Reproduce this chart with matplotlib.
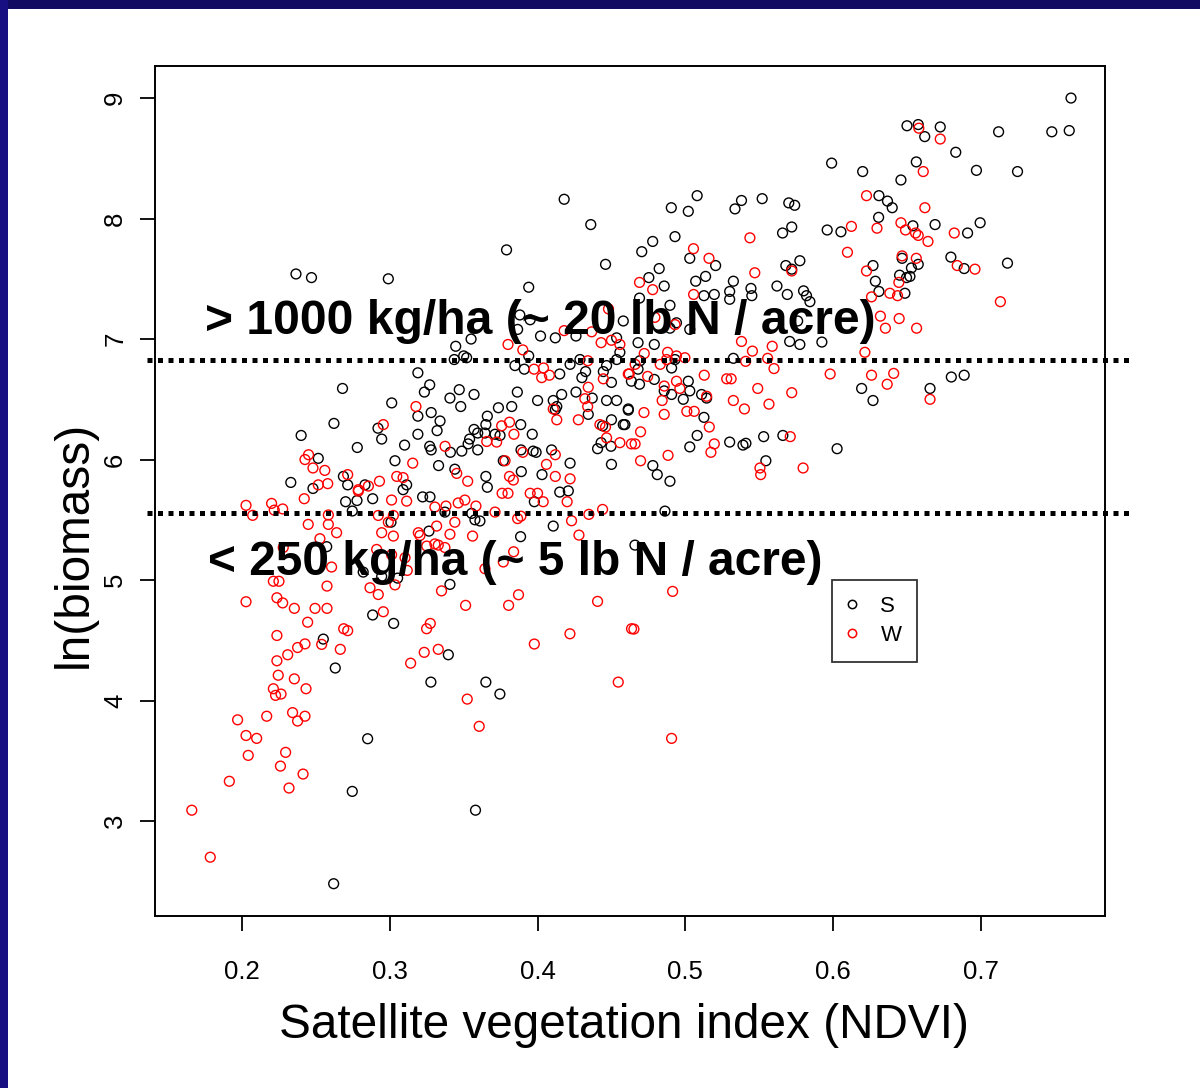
import matplotlib

matplotlib.use("Agg")
import matplotlib.pyplot as plt  # noqa: E402
from matplotlib.lines import Line2D  # noqa: E402
from matplotlib.patches import Rectangle  # noqa: E402

plt.rcParams["font.family"] = ["Liberation Sans", "DejaVu Sans"]

# group S (black circles): NDVI, ln(biomass)
s_ndvi = [
    0.418, 0.436, 0.379, 0.446, 0.394, 0.2365, 0.247, 0.299, 0.388, 0.395, 0.3865, 0.402, 0.412, 0.426, 0.458,
    0.3446, 0.355, 0.35, 0.3436, 0.352, 0.394, 0.3847, 0.391, 0.415, 0.422, 0.4287, 0.4325, 0.43, 0.4535, 0.4557,
    0.4535, 0.4467, 0.4445, 0.45, 0.426, 0.437, 0.4467, 0.4535, 0.4614, 0.4343, 0.444, 0.45, 0.458, 0.443, 0.4406,
    0.4497, 0.45, 0.4163, 0.4106, 0.413, 0.412, 0.40, 0.3863, 0.3825, 0.3735, 0.366, 0.365, 0.3886, 0.3746, 0.3712,
    0.3964, 0.357, 0.3595, 0.3644, 0.354, 0.353, 0.3888, 0.397, 0.399, 0.4095, 0.422, 0.3768, 0.389, 0.403, 0.415,
    0.4208, 0.365, 0.366, 0.344, 0.3595, 0.3487, 0.341, 0.333, 0.327, 0.328, 0.31, 0.3035, 0.319, 0.319, 0.328,
    0.334, 0.332, 0.3013, 0.3407, 0.347, 0.357, 0.348, 0.3234, 0.327, 0.319, 0.278, 0.2945, 0.292, 0.268, 0.2622,
    0.24, 0.2516, 0.233, 0.248, 0.2686, 0.2715, 0.2832, 0.309, 0.3114,
    0.761, 0.7598, 0.748, 0.712, 0.7248, 0.683, 0.697, 0.650, 0.6576, 0.662, 0.6725, 0.6563, 0.6459, 0.599, 0.62,
    0.631, 0.6368, 0.64, 0.6308, 0.4905, 0.502, 0.508, 0.5336, 0.538, 0.552, 0.570, 0.574, 0.4779, 0.4705, 0.493,
    0.5658, 0.572, 0.596, 0.6053, 0.654, 0.669, 0.691, 0.6995, 0.503, 0.5205, 0.627, 0.6467, 0.653, 0.6576, 0.652,
    0.645, 0.6497, 0.6286, 0.631, 0.6486, 0.6797, 0.6887, 0.718, 0.6193, 0.627, 0.6656, 0.68, 0.6887, 0.6027,
    0.5924, 0.5775, 0.5706, 0.576, 0.568, 0.5775, 0.572, 0.562, 0.569, 0.58, 0.582, 0.5843, 0.5325, 0.530, 0.530,
    0.5444, 0.545, 0.5137, 0.507, 0.5126, 0.5196, 0.4823, 0.4753, 0.4857, 0.469, 0.4896, 0.494, 0.503, 0.4896,
    0.468, 0.479, 0.5325, 0.4907, 0.493, 0.4693, 0.468, 0.4635, 0.469, 0.479, 0.502, 0.503, 0.4907, 0.4857,
    0.4986, 0.511, 0.5144, 0.4614, 0.4591, 0.5126, 0.508, 0.503, 0.530, 0.539, 0.541, 0.553, 0.566, 0.5545,
    0.478, 0.481, 0.4896,
    0.255, 0.2631, 0.2884, 0.3026, 0.282, 0.2945, 0.3053, 0.3396, 0.3278, 0.285, 0.2746, 0.262, 0.358, 0.365,
    0.3745, 0.3407, 0.3885, 0.4106, 0.4659, 0.3978, 0.361, 0.3576, 0.3373, 0.3554, 0.3265, 0.3008, 0.3222,
    0.3272, 0.2884, 0.2778, 0.2701, 0.2746, 0.2573, 0.4862,
]
s_lnb = [
    8.16, 7.95, 7.74, 7.62, 7.43, 7.54, 7.51, 7.50, 7.20, 7.16, 7.08, 7.025, 7.01, 7.025, 7.15,
    6.94, 7.00, 6.86, 6.83, 6.845, 6.86, 6.78, 6.75, 6.71, 6.79, 6.83, 6.73, 6.68, 7.01, 6.89,
    6.83, 6.78, 6.73, 6.64, 6.56, 6.51, 6.49, 6.49, 6.41, 6.375, 6.28, 6.33, 6.29, 6.14, 6.09,
    6.11, 5.96, 6.54, 6.49, 6.44, 6.415, 6.49, 6.56, 6.44, 6.43, 6.36, 6.29, 6.29, 6.20, 6.21,
    6.21, 6.25, 6.22, 6.22, 6.17, 6.13, 6.08, 6.07, 6.06, 6.08, 5.97, 5.99, 5.90, 5.875, 5.73,
    5.74, 5.86, 5.77, 5.92, 6.08, 6.07, 6.06, 5.95, 6.11, 6.08, 6.12, 5.99, 6.21, 6.36, 6.39,
    6.32, 6.24, 6.47, 6.51, 6.58, 6.54, 6.44, 6.56, 6.62, 6.72, 6.10, 6.17, 6.26, 6.59, 6.30,
    6.20, 6.01, 5.81, 5.76, 5.86, 5.79, 5.79, 5.75, 5.79,
    9.00, 8.73, 8.72, 8.72, 8.39, 8.55, 8.40, 8.77, 8.78, 8.68, 8.76, 8.47, 8.32, 8.46, 8.39,
    8.19, 8.145, 8.09, 8.01, 8.09, 8.06, 8.19, 8.08, 8.15, 8.165, 8.13, 8.11, 7.81, 7.725, 7.85,
    7.88, 7.93, 7.905, 7.89, 7.94, 7.95, 7.88, 7.965, 7.67, 7.61, 7.61, 7.67, 7.59, 7.62, 7.52,
    7.53, 7.51, 7.48, 7.395, 7.38, 7.68, 7.585, 7.63, 6.59, 6.49, 6.59, 6.685, 6.70, 6.09,
    6.975, 6.955, 6.98, 7.15, 7.61, 7.65, 7.58, 7.44, 7.37, 7.40, 7.36, 7.31, 7.48, 7.395, 7.33,
    7.42, 7.36, 7.52, 7.48, 7.36, 7.37, 7.585, 7.51, 7.44, 7.34, 7.28, 7.135, 7.08, 7.09,
    6.97, 6.955, 6.84, 6.76, 6.83, 6.82, 6.75, 6.65, 6.625, 6.665, 6.65, 6.57, 6.54, 6.57,
    6.50, 6.54, 6.51, 6.42, 6.29, 6.35, 6.20, 6.105, 6.145, 6.12, 6.135, 6.19, 6.20, 5.99,
    5.95, 5.875, 5.82,
    4.51, 4.27, 4.71, 4.64, 5.066, 5.03, 5.016, 4.38, 4.153, 3.683, 3.246, 2.48, 3.09, 4.153,
    4.054, 4.964, 5.36, 5.448, 5.29, 5.65, 5.49, 5.50, 5.564, 5.553, 5.406, 5.48, 5.69,
    5.69, 5.675, 5.66, 5.65, 5.573, 5.277, 5.572,
]

# group W (red circles): NDVI, ln(biomass)
w_ndvi = [
    0.448, 0.418, 0.4366, 0.380, 0.39, 0.3976, 0.404, 0.4028, 0.408, 0.434, 0.443, 0.45, 0.4557, 0.4445, 0.4343,
    0.432, 0.4614, 0.4339, 0.4276, 0.4422, 0.446, 0.4467, 0.4557, 0.4635, 0.4106, 0.413, 0.381, 0.3757, 0.384,
    0.3656, 0.3723, 0.390, 0.412, 0.406, 0.378, 0.412, 0.422, 0.381, 0.3836, 0.376, 0.38, 0.395, 0.40, 0.3453,
    0.3527, 0.3374, 0.3155, 0.3177, 0.2956, 0.2426, 0.245, 0.248, 0.256, 0.2516, 0.258, 0.2715, 0.2787, 0.2855,
    0.293, 0.3047, 0.309,
    0.658, 0.6725, 0.661, 0.6226, 0.6621, 0.5437, 0.6124, 0.6297, 0.6459, 0.649, 0.6558, 0.6576, 0.6642, 0.682,
    0.5055, 0.516, 0.6097, 0.6226, 0.6467, 0.6563, 0.6445, 0.6384, 0.6436, 0.626, 0.684, 0.696, 0.7132, 0.632,
    0.6354, 0.6447, 0.6565, 0.6215, 0.598, 0.626, 0.641, 0.6366, 0.6656, 0.572, 0.547, 0.5056, 0.469, 0.4779,
    0.4794, 0.493, 0.538, 0.5454, 0.5588, 0.5408, 0.5557, 0.560, 0.5128, 0.528, 0.531, 0.549, 0.572, 0.5325,
    0.540, 0.5566, 0.488, 0.494, 0.4997, 0.4873, 0.483, 0.4722, 0.466, 0.462, 0.4745, 0.494, 0.4857, 0.4963,
    0.4843, 0.5144, 0.472, 0.4857, 0.501, 0.506, 0.5162, 0.4697, 0.466, 0.5196, 0.5173, 0.571, 0.5505, 0.551,
    0.5797, 0.4697, 0.4883,
    0.166, 0.1785, 0.1914, 0.197, 0.2027, 0.2099, 0.2042, 0.2167, 0.2342, 0.2426, 0.2376, 0.2295, 0.226, 0.2413,
    0.2318, 0.2212, 0.2227, 0.2264, 0.2433, 0.2354, 0.2245, 0.2236, 0.2309, 0.2376, 0.2426, 0.2539, 0.2665,
    0.2688, 0.2715, 0.2236, 0.2444, 0.2494, 0.2575, 0.2354, 0.2236, 0.2275, 0.2027, 0.2212, 0.225, 0.2575,
    0.2606, 0.2956, 0.2866, 0.2922, 0.3035, 0.3118, 0.3103, 0.3012, 0.2911, 0.3249, 0.3274, 0.3233, 0.3328,
    0.3141, 0.3524, 0.3605, 0.335, 0.3513, 0.3804, 0.3871, 0.3978, 0.4219, 0.4406, 0.4546, 0.4636, 0.3644,
    0.3768, 0.3838, 0.423, 0.428, 0.4347, 0.444, 0.42, 0.4038, 0.3865, 0.3887, 0.3712, 0.344, 0.3407, 0.356,
    0.3463, 0.3508, 0.3583, 0.3317, 0.3193, 0.3204, 0.3305, 0.3328, 0.3373, 0.325, 0.3024, 0.2945, 0.299,
    0.3024, 0.2922, 0.3114, 0.3012, 0.3305, 0.338, 0.2421, 0.22, 0.2218, 0.2275, 0.2027, 0.2072, 0.2448,
    0.2584, 0.2584, 0.264, 0.2527, 0.2279, 0.2787,
    0.4914, 0.4652, 0.4907,
]
w_lnb = [
    7.25, 7.07, 7.06, 6.955, 6.91, 6.75, 6.76, 6.68, 6.70, 6.82, 6.97, 6.99, 6.955, 6.67, 6.60,
    6.505, 6.71, 6.44, 6.33, 6.29, 6.27, 6.18, 6.14, 6.13, 6.42, 6.33, 6.31, 6.28, 6.21,
    6.15, 6.145, 6.06, 6.04, 5.96, 5.99, 5.86, 5.84, 5.86, 5.83, 5.72, 5.72, 5.72, 5.72, 5.885,
    5.82, 6.11, 5.97, 6.44, 6.29, 6.00, 6.04, 5.93, 5.91, 5.79, 5.80, 5.875, 5.75, 5.78,
    5.82, 5.86, 5.85,
    8.75, 8.66, 8.39, 8.19, 8.09, 7.84, 7.935, 7.92, 7.965, 7.905, 7.88, 7.86, 7.81, 7.88,
    7.75, 7.67, 7.72, 7.565, 7.69, 7.67, 7.47, 7.38, 7.36, 7.35, 7.61, 7.58, 7.31, 7.19,
    7.09, 7.17, 7.09, 6.89, 6.71, 6.70, 6.715, 6.625, 6.50, 7.565, 7.55, 7.37, 7.47, 7.41,
    7.18, 7.12, 6.98, 6.90, 6.94, 6.815, 6.84, 6.755, 6.70, 6.67, 6.67, 6.59, 6.555, 6.49,
    6.42, 6.46, 6.89, 6.86, 6.845, 6.83, 6.79, 6.88, 6.79, 6.71, 6.69, 6.65, 6.61, 6.59,
    6.49, 6.525, 6.39, 6.375, 6.40, 6.40, 6.27, 6.23, 6.13, 6.13, 6.06, 6.19, 5.93, 5.875,
    5.93, 5.99, 6.035,
    3.09, 2.70, 3.33, 3.84, 3.71, 3.686, 3.545, 3.87, 3.90, 3.87, 3.83, 3.57, 3.456, 3.39,
    3.274, 4.098, 4.043, 4.054, 4.098, 4.18, 4.21, 4.33, 4.38, 4.44, 4.47, 4.466, 4.425,
    4.596, 4.58, 4.54, 4.65, 4.765, 4.765, 4.765, 4.853, 4.81, 4.82, 4.99, 4.99, 4.95,
    5.108, 4.737, 4.936, 4.88, 4.96, 5.08, 5.185, 5.21, 5.254, 4.596, 4.64, 4.40, 4.425,
    4.31, 4.012, 3.786, 4.91, 4.79, 4.79, 4.878, 4.469, 4.554, 4.823, 4.153, 4.596, 5.094,
    5.15, 5.235, 5.492, 5.373, 5.545, 5.586, 5.65, 5.65, 5.51, 5.53, 5.564, 5.48, 5.38, 5.365,
    5.64, 5.664, 5.614, 5.448, 5.393, 5.37, 5.30, 5.29, 5.27, 5.282, 5.365, 5.393, 5.48,
    5.536, 5.536, 5.655, 5.664, 5.606, 5.614, 5.675, 5.636, 5.58, 5.59, 5.62, 5.537, 5.462,
    5.54, 5.462, 5.393, 5.343, 5.27, 5.738,
    4.906, 4.593, 3.686,
]

x_ticks = [0.2, 0.3, 0.4, 0.5, 0.6, 0.7]
y_ticks = [3, 4, 5, 6, 7, 8, 9]
thresholds = [6.83, 5.56]
threshold_labels = ["> 1000 kg/ha (~ 20 lb N / acre)", "< 250 kg/ha (~ 5 lb N / acre)"]
groups = ["S", "W"]
colors = ["black", "#ff0000"]

fig = plt.figure(figsize=(12, 10.88), dpi=100)
fig.patch.set_facecolor("white")
# slide frame: dark navy bands on the top and left edges
fig.patches.append(Rectangle((0, 1 - 9 / 1088), 1, 9 / 1088, transform=fig.transFigure,
                             facecolor="#110b62", edgecolor="none", zorder=0))
fig.patches.append(Rectangle((0, 0), 8 / 1200, 1, transform=fig.transFigure,
                             facecolor="#170f82", edgecolor="none", zorder=0))

ax = fig.add_axes([155 / 1200, 1 - 916 / 1088, 950 / 1200, 850 / 1088])
ax.scatter(s_ndvi, s_lnb, s=50, facecolors="none", edgecolors=colors[0], linewidths=1.0, zorder=3)
ax.scatter(w_ndvi, w_lnb, s=50, facecolors="none", edgecolors=colors[1], linewidths=1.0, zorder=3)

ax.set_xlim(0.1411, 0.7840)
ax.set_ylim(2.212, 9.266)
ax.set_xticks(x_ticks)
ax.set_xticklabels([f"{t:.1f}" for t in x_ticks])
ax.set_yticks(y_ticks)
ax.set_yticklabels([str(t) for t in y_ticks])
ax.tick_params(axis="both", direction="out", length=11, width=1.3, labelsize=18.5)
ax.tick_params(axis="x", pad=21)
ax.tick_params(axis="y", pad=9, labelrotation=90)
for lab in ax.get_yticklabels():
    lab.set_va("center")
for sp in ax.spines.values():
    sp.set_linewidth(1.4)

# threshold lines run a little past the plot frame
for yv in thresholds:
    ax.plot([0.1357, 0.8008], [yv, yv], color="black", lw=3.6, linestyle=(0, (1, 1.1)),
            solid_capstyle="butt", dash_capstyle="butt", clip_on=False, zorder=4)

fig.text(205 / 1200, 1 - 334 / 1088, threshold_labels[0], fontsize=34.6, fontweight="bold",
         ha="left", va="baseline", zorder=5)
fig.text(208 / 1200, 1 - 575 / 1088, threshold_labels[1], fontsize=34.5, fontweight="bold",
         ha="left", va="baseline", zorder=5)

fig.text(624 / 1200, 1 - 1025 / 1088, "Satellite vegetation index (NDVI)", fontsize=34.4,
         ha="center", va="center")
fig.text(74 / 1200, 1 - 544 / 1088, "ln(biomass)", fontsize=34.4, rotation=90,
         ha="center", va="center")

handles = [Line2D([], [], marker="o", linestyle="none", markerfacecolor="none",
                  markeredgecolor=c, markersize=6, markeredgewidth=1.1) for c in colors]
leg = ax.legend(handles, groups, loc="upper left", bbox_to_anchor=(832 / 1200, 1 - 580 / 1088),
                bbox_transform=fig.transFigure, fontsize=16, frameon=True, fancybox=False,
                borderpad=0.72, handlelength=0.36, handletextpad=1.1, labelspacing=0.36,
                borderaxespad=0)
leg.get_frame().set_edgecolor("black")
leg.get_frame().set_linewidth(1.3)

fig.savefig("out.png", dpi=100)
